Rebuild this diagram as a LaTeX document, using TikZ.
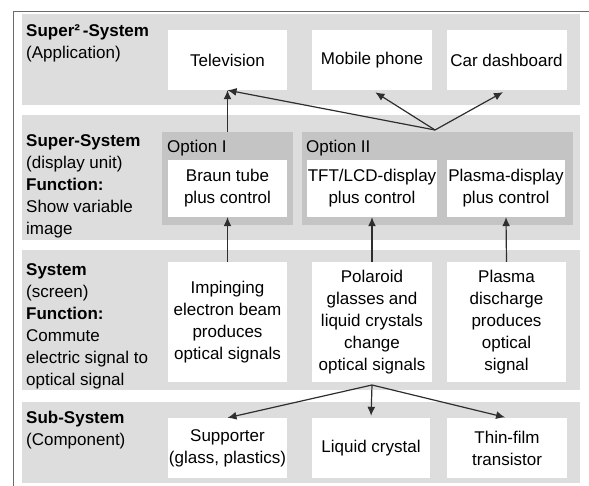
\documentclass[tikz,border=0pt]{standalone}
\usepackage{fontspec}
\setmainfont{Liberation Sans}
\usetikzlibrary{arrows.meta,calc}
\definecolor{bandgray}{gray}{0.865}
\definecolor{optgray}{gray}{0.77}
\definecolor{framec}{gray}{0.42}
\definecolor{arrc}{gray}{0.18}
\begin{document}
\begin{tikzpicture}[x=1pt,y=-1pt,
  font=\fontsize{17}{22}\selectfont,
  band/.style={fill=bandgray,draw=none},
  optbox/.style={fill=optgray,draw=none},
  wbox/.style={fill=white,draw=none,align=center,inner sep=0.5pt,minimum height=#1},
  wbox/.default=60pt,
  lbl/.style={anchor=north west,align=left,inner sep=0pt},
  optlbl/.style={anchor=base west,inner sep=0pt},
  arr/.style={draw=arrc,line width=1.2pt,-{Latex[length=9pt,width=8pt]}}]
\useasboundingbox (0,0) rectangle (589,486);
% frame
\draw[framec,line width=1pt] (13,486) -- (13,12) -- (589,12);
% bands
\fill[band] (22,14) rectangle (580,105);
\fill[band] (22,115) rectangle (580,240);
\fill[band] (22,250) rectangle (580,390);
\fill[band] (22,402) rectangle (580,483);
% option boxes
\node[optbox,minimum width=131pt,minimum height=93pt,inner sep=0pt] (optI) at (227.5,178.5) {};
\node[optbox,minimum width=271pt,minimum height=93pt,inner sep=0pt] (optII) at (437.5,178.5) {};
\node[optlbl] (optIlbl) at (167,153) {Option I};
\node[optlbl] (optIIlbl) at (306,153) {Option II};
% band labels
\node[lbl] (l1) at (26,24) {\textbf{Super²\,-System}\\(Application)};
\node[lbl] (l2) at (26,134) {\textbf{Super-System}\\(display unit)\\\textbf{Function:}\\Show variable\\image};
\node[lbl] (l3) at (26,263) {\textbf{System}\\(screen)\\\textbf{Function:}\\Commute\\electric signal to\\optical signal};
\node[lbl] (l4) at (26,411) {\textbf{Sub-System}\\(Component)};
% level 1
\node[wbox,minimum width=119pt] (tv) at (227.5,60) {Television};
\node[wbox,minimum width=120pt] (mob) at (372,60) {Mobile phone};
\node[wbox,minimum width=120pt] (car) at (506.5,60) {Car dashboard};
% level 2
\node[wbox=57pt,minimum width=119pt] (braun) at (227.5,188.5) {Braun tube\\plus control};
\node[wbox=57pt,minimum width=130pt] (tft) at (372,188.5) {TFT/LCD-display\\plus control};
\node[wbox=57pt,minimum width=118pt] (pdisp) at (506,188.5) {Plasma-display\\plus control};
% level 3
\node[wbox=120pt,minimum width=119pt] (imp) at (227.5,322) {Impinging\\electron beam\\produces\\optical signals};
\node[wbox=120pt,minimum width=120pt] (pol) at (372,322) {Polaroid\\glasses and\\liquid crystals\\change\\optical signals};
\node[wbox=120pt,minimum width=119pt] (pdis) at (506.5,322) {Plasma\\discharge\\produces\\optical\\signal};
% level 4
\node[wbox,minimum width=119pt] (sup) at (227.5,448) {Supporter\\(glass, plastics)};
\node[wbox,minimum width=118pt] (lc) at (371,448) {Liquid crystal};
\node[wbox,minimum width=120pt] (tfilm) at (507,448) {Thin-film\\transistor};
% connectors
\coordinate (hub) at (435,130);
\coordinate (bhub) at (372,385);
\draw[arr] (optI.north -| tv.south) -- (tv.south);
\draw[arr] (hub) -- (tv.south);
\draw[arr,shorten >=4pt] (hub) -- (mob.south);
\draw[arr,shorten >=4pt] (hub) -- (car.south);
\draw[arr] (imp.north) -- (braun.south);
\draw[arr] (pol.north) -- (tft.south);
\draw[arr] (pdis.north) -- (pdisp.south);
\draw[arr] (bhub) -- (sup.north);
\draw[arr,shorten >=2pt] (bhub) -- (lc.north);
\draw[arr,shorten >=2pt] (bhub) -- (tfilm.north);
\end{tikzpicture}
\end{document}
